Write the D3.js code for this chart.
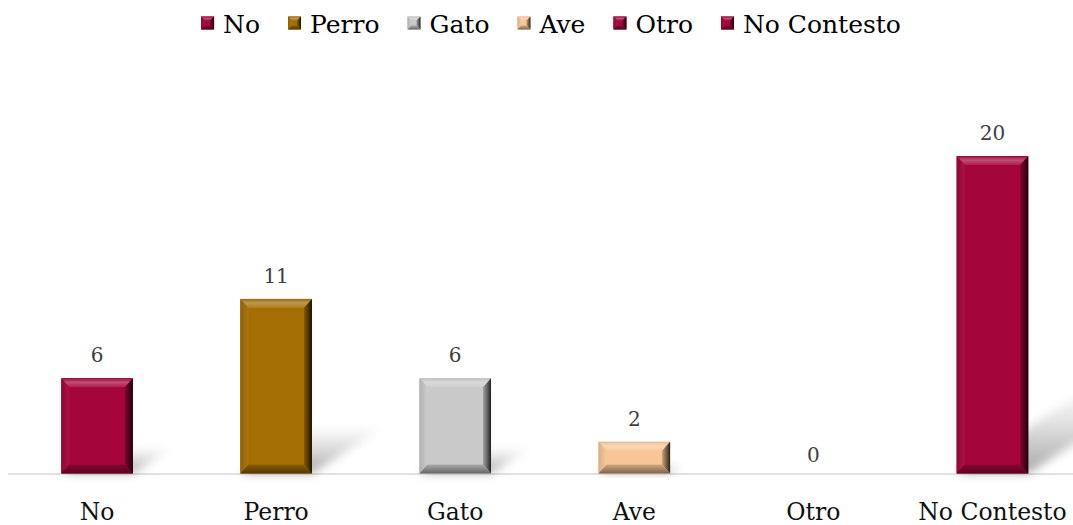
<!DOCTYPE html>
<html>
<head>
<meta charset="utf-8">
<script src="https://cdn.jsdelivr.net/npm/d3@7"></script>
<style>
  html, body { margin: 0; padding: 0; background: #ffffff; }
  svg { display: block; }
  text { font-family: "DejaVu Serif", "Liberation Serif", serif; }
</style>
</head>
<body>
<svg id="chart" width="1073" height="525"></svg>
<script>
// ---- data ----
const categories = ["No", "Perro", "Gato", "Ave", "Otro", "No Contesto"];
const values = [6, 11, 6, 2, 0, 20];
const legendLabels = ["No", "Perro", "Gato", "Ave", "Otro", "No Contesto"];
const barColors = ["#A4053A", "#A46E05", "#C9C9C9", "#F7C596", "#A4053A", "#A4053A"];

// ---- layout ----
const baseY = 473.5, topY = 156;
const svg = d3.select("#chart");
const defs = svg.append("defs");

const x = d3.scaleBand().domain(categories).range([7.5, 1082]).paddingInner(0.6).paddingOuter(0.3);
const y = d3.scaleLinear().domain([0, 20]).range([baseY, topY]);

// filters
const blur = defs.append("filter").attr("id", "blur").attr("x", "-50%").attr("y", "-50%").attr("width", "200%").attr("height", "200%");
blur.append("feGaussianBlur").attr("stdDeviation", 5);

const sg = defs.append("linearGradient").attr("id", "shadowGrad").attr("x1", 0).attr("y1", 1).attr("x2", 0).attr("y2", 0);
sg.append("stop").attr("offset", "0%").attr("stop-color", "#000").attr("stop-opacity", 0.34);
sg.append("stop").attr("offset", "55%").attr("stop-color", "#000").attr("stop-opacity", 0.13);
sg.append("stop").attr("offset", "100%").attr("stop-color", "#000").attr("stop-opacity", 0);

function shade(c, k) {
  const col = d3.rgb(c);
  if (k > 0) return d3.interpolateRgb(col, "#ffffff")(k).toString();
  return d3.interpolateRgb(col, "#000000")(-k).toString();
}

// gradients for bevel sides, per colour
const gradIds = {};
function grad(color, side) {
  const key = color + side;
  if (gradIds[key]) return gradIds[key];
  const id = "g" + Object.keys(gradIds).length;
  gradIds[key] = "url(#" + id + ")";
  const specs = {
    top:    { dir: [0, 0, 0, 1], stops: [[0, -0.05], [0.45, 0.3], [1, 0.1]] },
    left:   { dir: [0, 0, 1, 0], stops: [[0, -0.12], [1, 0.06]] },
    right:  { dir: [0, 0, 1, 0], stops: [[0, -0.2], [0.6, -0.55], [1, -0.85]] },
    bottom: { dir: [0, 0, 0, 1], stops: [[0, -0.15], [1, -0.5]] }
  };
  const s = specs[side];
  const lg = defs.append("linearGradient").attr("id", id)
    .attr("x1", s.dir[0]).attr("y1", s.dir[1]).attr("x2", s.dir[2]).attr("y2", s.dir[3]);
  s.stops.forEach(st => lg.append("stop").attr("offset", st[0]).attr("stop-color", shade(color, st[1])));
  return gradIds[key];
}

// ---- axis ----
const axis = d3.axisBottom(x).tickSize(0).tickSizeOuter(0);
const gAxis = svg.append("g").attr("transform", `translate(0,${baseY})`).call(axis);
gAxis.select(".domain").attr("stroke", "#d9d9d9").attr("stroke-width", 1.5);
gAxis.selectAll(".tick text")
  .attr("y", 46.5).attr("dy", 0)
  .attr("fill", "#111")
  .style("font-family", "'DejaVu Serif', serif")
  .style("font-size", "23.5px");

// ---- shadows ----
const a = 0.42, b = 0.27;
const gShadow = svg.append("g");
categories.forEach((c, i) => {
  const v = values[i];
  if (v <= 0) return;
  const x0 = x(c), x1 = x(c) + x.bandwidth();
  const h = baseY - y(v);
  const pts = [[x0, baseY], [x1, baseY], [x1 + a * h, baseY - b * h], [x0 + a * h, baseY - b * h]];
  gShadow.append("path")
    .attr("d", "M" + pts.map(p => p.join(",")).join("L") + "Z")
    .attr("fill", "url(#shadowGrad)")
    .attr("filter", "url(#blur)");
});

// ---- bevelled block ----
function bevelBlock(g, x0, y0, x1, y1, color, bv, bh) {
  const bvy = Math.min(bv, (y1 - y0) / 2);
  const bvx = Math.min(bh, (x1 - x0) / 2);
  g.append("rect").attr("x", x0).attr("y", y0).attr("width", x1 - x0).attr("height", y1 - y0).attr("fill", color);
  const poly = (pts, fill) => g.append("path").attr("d", "M" + pts.map(p => p.join(",")).join("L") + "Z").attr("fill", fill);
  poly([[x0, y0], [x1, y0], [x1 - bvx, y0 + bvy], [x0 + bvx, y0 + bvy]], grad(color, "top"));
  poly([[x0, y0], [x0 + bvx, y0 + bvy], [x0 + bvx, y1 - bvy], [x0, y1]], grad(color, "left"));
  poly([[x1, y0], [x1, y1], [x1 - bvx, y1 - bvy], [x1 - bvx, y0 + bvy]], grad(color, "right"));
  poly([[x0, y1], [x0 + bvx, y1 - bvy], [x1 - bvx, y1 - bvy], [x1, y1]], grad(color, "bottom"));
}

// ---- bars ----
const gBars = svg.append("g");
categories.forEach((c, i) => {
  const v = values[i];
  if (v <= 0) return;
  bevelBlock(gBars, x(c), y(v), x(c) + x.bandwidth(), baseY, barColors[i], 9, 8);
});

// ---- data labels ----
svg.append("g").selectAll("text").data(categories).join("text")
  .attr("x", c => x(c) + x.bandwidth() / 2)
  .attr("y", (c, i) => y(values[i]) - (values[i] > 0 ? 16 : 12))
  .attr("text-anchor", "middle")
  .attr("fill", "#404040")
  .style("font-size", "20px")
  .text((c, i) => values[i]);

// ---- legend ----
const gLeg = svg.append("g");
const sq = 13, gapIn = 9, gapOut = 28, legBase = 33, legCenter = 551;
const items = legendLabels.map((l, i) => {
  const t = gLeg.append("text").attr("y", legBase).attr("fill", "#000").style("font-size", "25px").text(l);
  return { t, w: t.node().getComputedTextLength(), color: barColors[i] };
});
const total = d3.sum(items, d => d.w) + items.length * (sq + gapIn) + (items.length - 1) * gapOut;
let cx = legCenter - total / 2;
items.forEach(it => {
  bevelBlock(gLeg, cx, 16.5, cx + sq, 16.5 + sq, it.color, 4, 4);
  it.t.attr("x", cx + sq + gapIn);
  cx += sq + gapIn + it.w + gapOut;
});
</script>
</body>
</html>
